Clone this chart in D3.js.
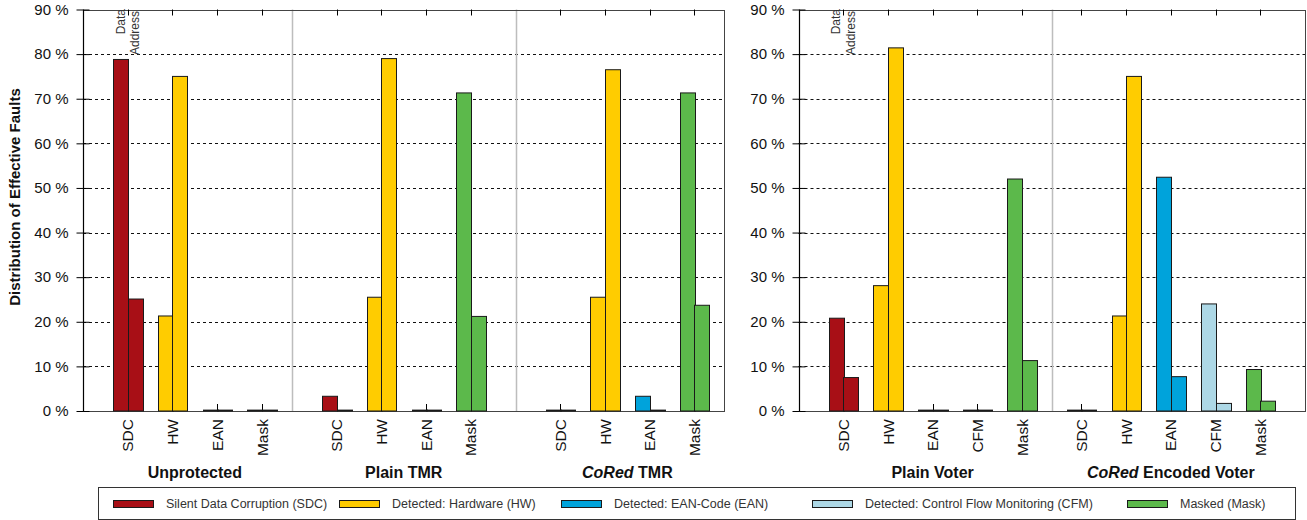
<!DOCTYPE html>
<html>
<head>
<meta charset="utf-8">
<script src="https://cdn.jsdelivr.net/npm/d3@7"></script>
<style>
  html, body { margin: 0; padding: 0; background: #fff; }
  svg { display: block; font-family: "Liberation Sans", Arial, Helvetica, sans-serif; }
</style>
</head>
<body>
<svg id="chart" width="1307" height="520"></svg>
<script>
// Fault categories and their colours
const seriesKeys = ["SDC", "HW", "EAN", "CFM", "Mask"];
const seriesLabels = [
  "Silent Data Corruption (SDC)",
  "Detected: Hardware (HW)",
  "Detected: EAN-Code (EAN)",
  "Detected: Control Flow Monitoring (CFM)",
  "Masked (Mask)"
];
const seriesColors = ["#a80f16", "#ffcc00", "#00a3db", "#add8e6", "#5cb94b"];

// Left panel: TMR variants
const tmrCategories = ["SDC", "HW", "EAN", "Mask"];
const tmrGroups = ["Unprotected", "Plain TMR", "CoRed TMR"];
// Per group: [data-fault %, address-fault %] per category
const unprotectedData    = [78.8, 21.3, 0.2, 0.2];
const unprotectedAddress = [25.1, 75.0, 0.2, 0.2];
const plainTmrData       = [3.3, 25.5, 0.2, 71.3];
const plainTmrAddress    = [0.2, 79.0, 0.2, 21.2];
const coredTmrData       = [0.2, 25.5, 3.3, 71.3];
const coredTmrAddress    = [0.2, 76.5, 0.2, 23.7];

// Right panel: voter variants
const voterCategories = ["SDC", "HW", "EAN", "CFM", "Mask"];
const voterGroups = ["Plain Voter", "CoRed Encoded Voter"];
const plainVoterData     = [20.8, 28.1, 0.2, 0.2, 52.0];
const plainVoterAddress  = [7.5, 81.4, 0.2, 0.2, 11.3];
const coredVoterData     = [0.2, 21.3, 52.4, 24.0, 9.3];
const coredVoterAddress  = [0.2, 75.0, 7.7, 1.7, 2.2];

const yTicks = [0, 10, 20, 30, 40, 50, 60, 70, 80, 90];
const yTitle = "Distribution of Effective Faults";
const subLabels = ["Data", "Address"];

const svg = d3.select("#chart");
const y = d3.scaleLinear().domain([0, 90]).range([411, 9.5]);
const barUnits = 0.325;

function drawPanel(cfg) {
  const x = d3.scaleLinear().domain([0, cfg.span]).range([cfg.left, cfg.right]);
  const g = svg.append("g");
  const top = y(90), base = y(0);
  const bw = x(barUnits) - x(0);

  // dashed grid
  g.selectAll("line.grid").data(yTicks.filter(t => t > 0 && t < 90)).join("line")
    .attr("x1", x(0)).attr("x2", x(cfg.span))
    .attr("y1", d => Math.round(y(d)) + 0.5).attr("y2", d => Math.round(y(d)) + 0.5)
    .attr("stroke", "#111").attr("stroke-width", 1).attr("stroke-dasharray", "3,3");

  // group separators
  g.selectAll("line.sep").data(cfg.separators).join("line")
    .attr("x1", d => Math.round(x(d)) + 0.5).attr("x2", d => Math.round(x(d)) + 0.5)
    .attr("y1", top).attr("y2", base)
    .attr("stroke", "#bdbdbd").attr("stroke-width", 1.5);

  // frame
  g.append("rect")
    .attr("x", Math.round(x(0)) + 0.5).attr("y", Math.round(top) + 0.5)
    .attr("width", Math.round(x(cfg.span)) - Math.round(x(0)))
    .attr("height", Math.round(base) - Math.round(top))
    .attr("fill", "none").attr("stroke", "#444").attr("stroke-width", 1);
  g.append("line").attr("x1", Math.round(x(0)) + 0.5).attr("x2", Math.round(x(0)) + 0.5)
    .attr("y1", top).attr("y2", base + 0.5).attr("stroke", "#000").attr("stroke-width", 1.2);

  // y ticks and labels
  const yAxis = d3.axisLeft(y).tickValues(yTicks).tickSize(6).tickFormat(d => d + " %");
  const ya = g.append("g").attr("transform", `translate(${Math.round(x(0)) + 0.5},0)`).call(yAxis);
  ya.select(".domain").remove();
  ya.selectAll(".tick line").attr("x2", -7).attr("stroke", "#000");
  ya.selectAll(".tick").append("line").attr("x1", 0).attr("x2", 6).attr("stroke", "#000");
  ya.selectAll(".tick text").attr("x", -15).attr("font-size", 15)
    .attr("fill", "#111").attr("font-family", "'Liberation Sans', Arial, sans-serif");

  // category positions
  const items = [];
  cfg.groups.forEach((grp, gi) => {
    cfg.categories.forEach((cat, ci) => {
      const center = cfg.offsets[gi] + ci;
      items.push({ cat, center, gi, ci,
        data: cfg.data[gi][ci], address: cfg.address[gi][ci],
        color: seriesColors[seriesKeys.indexOf(cat)] });
    });
  });

  // category ticks (top and bottom)
  g.selectAll("line.ttick").data(items).join("line")
    .attr("x1", d => Math.round(x(d.center)) + 0.5).attr("x2", d => Math.round(x(d.center)) + 0.5)
    .attr("y1", top).attr("y2", top + 6).attr("stroke", "#000");
  g.selectAll("line.btick").data(items).join("line")
    .attr("x1", d => Math.round(x(d.center)) + 0.5).attr("x2", d => Math.round(x(d.center)) + 0.5)
    .attr("y1", base).attr("y2", base - 7).attr("stroke", "#000");

  // bars: data fault (left) and address fault (right)
  const bars = [];
  items.forEach(it => {
    bars.push({ x0: x(it.center) - bw, v: it.data, color: it.color });
    bars.push({ x0: x(it.center), v: it.address, color: it.color });
  });
  g.selectAll("rect.bar").data(bars).join("rect")
    .attr("x", d => Math.round(d.x0) + 0.5)
    .attr("y", d => y(d.v))
    .attr("width", Math.round(bw))
    .attr("height", d => base - y(d.v))
    .attr("fill", d => d.color)
    .attr("stroke", "#1a1a1a").attr("stroke-width", 1);

  // category labels (rotated)
  g.selectAll("text.cat").data(items).join("text")
    .attr("transform", d => `translate(${x(d.center)},419) rotate(-90)`)
    .attr("text-anchor", "end").attr("dy", "0.36em")
    .attr("font-size", 15.5).attr("fill", "#111")
    .text(d => d.cat);

  // group labels
  cfg.groups.forEach((grp, gi) => {
    const cx = x(cfg.offsets[gi] + (cfg.categories.length - 1) / 2);
    const t = g.append("text").attr("x", cx).attr("y", 478)
      .attr("text-anchor", "middle").attr("font-size", 16).attr("font-weight", "bold").attr("fill", "#111");
    if (grp.startsWith("CoRed")) {
      t.append("tspan").attr("font-style", "italic").text("CoRed");
      t.append("tspan").text(grp.slice(5));
    } else {
      t.text(grp);
    }
  });

  // Data / Address annotation above the first pair
  const first = cfg.offsets[0];
  [x(first) - bw / 2, x(first) + bw / 2].forEach((px, i) => {
    g.append("text")
      .attr("transform", `translate(${px},${i === 0 ? 9 : 11}) rotate(-90)`)
      .attr("text-anchor", "end").attr("dy", "0.36em")
      .attr("font-size", 12).attr("fill", "#333")
      .text(subLabels[i]);
  });
}

drawPanel({
  left: 83, right: 724, span: 14.33,
  groups: tmrGroups, categories: tmrCategories,
  offsets: [1, 5.67, 10.67], separators: [4.67, 9.67],
  data: [unprotectedData, plainTmrData, coredTmrData],
  address: [unprotectedAddress, plainTmrAddress, coredTmrAddress]
});
drawPanel({
  left: 798.5, right: 1305, span: 11.33,
  groups: voterGroups, categories: voterCategories,
  offsets: [1, 6.33], separators: [5.67],
  data: [plainVoterData, coredVoterData],
  address: [plainVoterAddress, coredVoterAddress]
});

// y-axis title
svg.append("text")
  .attr("transform", "translate(15,197) rotate(-90)")
  .attr("text-anchor", "middle").attr("dy", "0.36em")
  .attr("font-size", 15).attr("font-weight", "bold").attr("fill", "#111")
  .text(yTitle);

// legend
const legend = svg.append("g");
legend.append("rect").attr("x", 98.5).attr("y", 487.5).attr("width", 1197).attr("height", 32)
  .attr("fill", "#fff").attr("stroke", "#333");
const legendX = [113, 339, 561, 812, 1127];
const li = legend.selectAll("g.item").data(seriesKeys).join("g")
  .attr("transform", (d, i) => `translate(${legendX[i]},504)`);
li.append("rect").attr("x", 0.5).attr("y", -3.5).attr("width", 40).attr("height", 7)
  .attr("fill", (d, i) => seriesColors[i]).attr("stroke", "#1a1a1a");
li.append("text").attr("x", 53).attr("dy", "0.35em").attr("font-size", 12.5).attr("fill", "#333")
  .text((d, i) => seriesLabels[i]);
</script>
</body>
</html>
